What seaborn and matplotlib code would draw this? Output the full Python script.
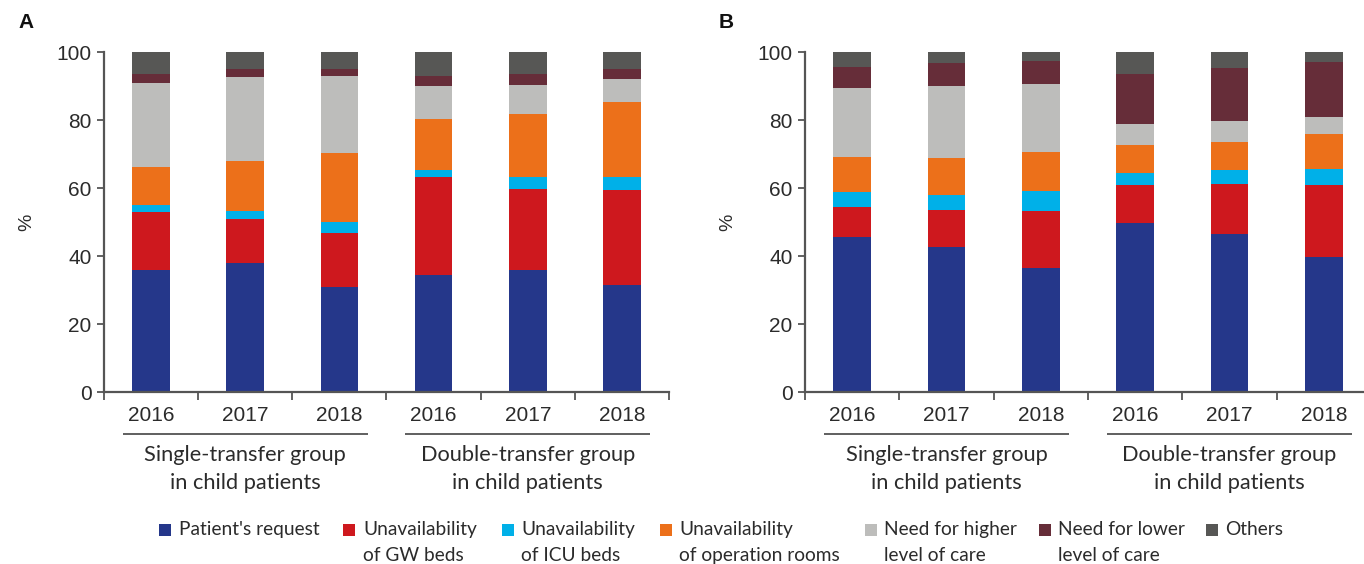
import numpy as np
import pandas as pd
import matplotlib
matplotlib.use("Agg")
import matplotlib.pyplot as plt
import matplotlib.transforms as mtransforms
from matplotlib import font_manager as fm
from matplotlib.patches import Rectangle
import seaborn as sns

# ---------------- data ----------------
years = ["2016", "2017", "2018", "2016", "2017", "2018"]
groups = ["Single-transfer group\nin child patients", "Double-transfer group\nin child patients"]
categories = ["Patient's request", "Unavailability\nof GW beds", "Unavailability\nof ICU beds",
              "Unavailability\nof operation rooms", "Need for higher\nlevel of care",
              "Need for lower\nlevel of care", "Others"]
colors = ["#25378A", "#CE181E", "#00B0E8", "#EC701A", "#BDBDBB", "#662D39", "#575755"]

# Panel A (segment percentages, bottom -> top)
a_patient = [36.0, 38.0, 30.9, 34.3, 36.0, 31.5]
a_gw      = [17.0, 12.9, 15.9, 28.8, 23.7, 28.0]
a_icu     = [2.0, 2.4, 3.3, 2.3, 3.4, 3.8]
a_or      = [11.2, 14.7, 20.2, 14.9, 18.7, 22.0]
a_higher  = [24.7, 24.7, 22.6, 9.7, 8.5, 6.8]
a_lower   = [2.7, 2.3, 2.1, 2.9, 3.3, 2.9]
a_others  = [6.4, 5.0, 5.0, 7.1, 6.4, 5.0]

# Panel B
b_patient = [45.6, 42.7, 36.5, 49.8, 46.6, 39.8]
b_gw      = [8.9, 10.9, 16.8, 11.1, 14.6, 21.1]
b_icu     = [4.4, 4.4, 5.9, 3.5, 4.2, 4.7]
b_or      = [10.2, 10.9, 11.4, 8.3, 8.2, 10.3]
b_higher  = [20.3, 21.1, 20.0, 6.1, 6.1, 5.0]
b_lower   = [6.2, 6.8, 6.8, 14.7, 15.6, 16.2]
b_others  = [4.4, 3.2, 2.6, 6.5, 4.7, 2.9]

panel_a = [a_patient, a_gw, a_icu, a_or, a_higher, a_lower, a_others]
panel_b = [b_patient, b_gw, b_icu, b_or, b_higher, b_lower, b_others]
y_ticks = [0, 20, 40, 60, 80, 100]

# ---------------- style ----------------
sns.set_style("ticks")


def pick(cands):
    for c in cands:
        try:
            fm.findfont(fm.FontProperties(family=c), fallback_to_default=False)
            return c
        except Exception:
            pass
    return "DejaVu Sans"


main_font = pick(["Liberation Sans", "Arial", "DejaVu Sans"])
text_font = pick(["Lato", "Open Sans", "Roboto", "Liberation Sans"])
plt.rcParams["font.family"] = [main_font, "DejaVu Sans"]

TXT = "#2b2b2b"
SPINE = "#555555"

W, H = 1364, 564
fig = plt.figure(figsize=(W / 100, H / 100), dpi=100)


def fx(px):
    return px / W


def fy(py):
    return 1 - py / H


def draw_panel(left_px, right_px, data, letter, letter_x):
    ax = fig.add_axes([fx(left_px), fy(392), fx(right_px - left_px), (392 - 52) / H])
    n = len(years)
    seg = np.array(data, dtype=float)
    cum = np.cumsum(seg, axis=0)
    pos = [str(i) for i in range(n)]
    # draw from top-most cumulative down so lower segments overlay
    for k in range(len(categories) - 1, -1, -1):
        sns.barplot(x=pos, y=cum[k], order=pos, color=colors[k], saturation=1,
                    width=0.4, linewidth=0, ax=ax, errorbar=None)
    ax.set_xlim(-0.5, n - 0.5)
    ax.set_ylim(0, 100)
    ax.set_yticks(y_ticks)
    ax.set_yticklabels([str(t) for t in y_ticks], fontsize=15, color=TXT)
    ax.set_xticks(range(n))
    ax.set_xticklabels(years, fontsize=15, color=TXT)
    ax.set_xticks(np.arange(-0.5, n, 1.0), minor=True)
    ax.tick_params(axis="x", which="major", length=0, pad=10)
    ax.tick_params(axis="x", which="minor", length=6, width=1.3, color=SPINE, direction="out")
    ax.tick_params(axis="y", which="major", length=5, width=1.3, color=SPINE, pad=4)
    ax.set_xlabel("")
    ax.set_ylabel("%", fontsize=14, color=TXT)
    ax.yaxis.set_label_coords((letter_x + 17 - left_px) / (right_px - left_px), 0.5)
    for s in ["top", "right"]:
        ax.spines[s].set_visible(False)
    for s in ["left", "bottom"]:
        ax.spines[s].set_color(SPINE)
        ax.spines[s].set_linewidth(1.6)
    ax.grid(False)

    trans = mtransforms.blended_transform_factory(ax.transData, ax.transAxes)
    y_line = (392 - 434) / 340
    for gi, (x0, x1) in enumerate([(-0.3, 2.3), (2.7, 5.3)]):
        ax.plot([x0, x1], [y_line, y_line], transform=trans, color="#444444", lw=1.2,
                clip_on=False, solid_capstyle="butt")
        ax.text((x0 + x1) / 2, (392 - 445) / 340, groups[gi], transform=trans,
                ha="center", va="top", fontsize=15.7, color=TXT, family=text_font,
                linespacing=1.5)
    fig.text(fx(letter_x), fy(22), letter, fontsize=15, fontweight="bold",
             ha="left", va="center", color="#111111")
    return ax


draw_panel(104, 669, panel_a, "A", 18)
draw_panel(805, 1371, panel_b, "B", 719)

# ---------------- legend ----------------
sq_x = [159, 343, 502, 660, 865, 1039, 1206]
txt_x = [179, 363, 521, 679, 884, 1058, 1225]
for i, lab in enumerate(categories):
    fig.patches.append(Rectangle((fx(sq_x[i]), fy(536)), 12 / W, 12 / H,
                                 transform=fig.transFigure, facecolor=colors[i],
                                 edgecolor="none"))
    fig.text(fx(txt_x[i]), fy(521), lab, ha="left", va="top", fontsize=13.8,
             color=TXT, family=text_font, linespacing=1.65)

fig.savefig("out.png", dpi=100)
